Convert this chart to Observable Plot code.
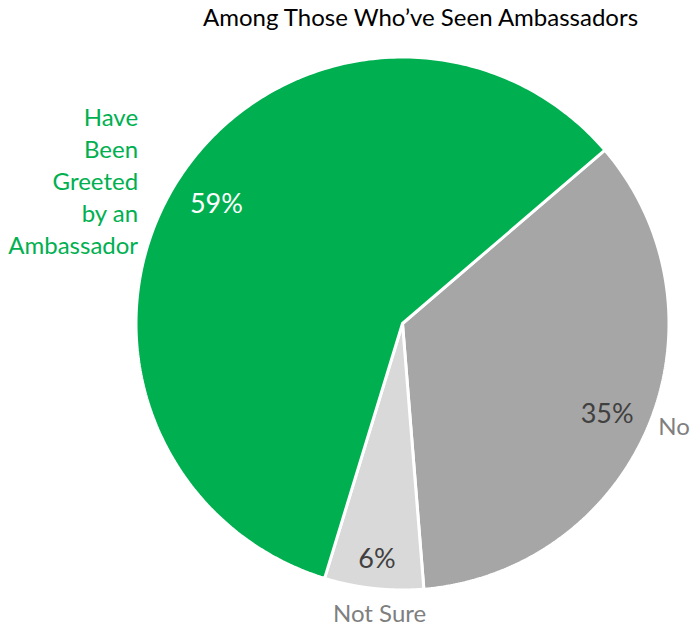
<!DOCTYPE html>
<html>
<head>
<meta charset="utf-8">
<script src="https://cdn.jsdelivr.net/npm/d3@7"></script>
<script src="https://cdn.jsdelivr.net/npm/@observablehq/plot@0.6"></script>
<style>
  html, body { margin: 0; padding: 0; background: #fff; }
  #chart svg { display: block; }
</style>
</head>
<body>
<div id="chart"></div>
<script>
// ---- data ----
const title = "Among Those Who\u2019ve Seen Ambassadors";
const categories = ["No", "Not Sure", "Have Been Greeted by an Ambassador"];
const values = [35, 6, 59];
const valueLabels = ["35%", "6%", "59%"];
const colors = ["#A6A6A6", "#D9D9D9", "#00B050"];
const labelColors = ["#7F7F7F", "#7F7F7F", "#00B050"];
const valueColors = ["#404040", "#404040", "#FFFFFF"];

// ---- layout ----
const W = 692, H = 628;
const cx = 402, cy = 323, R = 266.5;
const startDeg = 49.4; // first slice boundary, clockwise from top
const FONT = "Lato, 'Open Sans', sans-serif";

const total = d3.sum(values);
let acc = startDeg * Math.PI / 180;
const slices = values.map((v, i) => {
  const a0 = acc, a1 = acc + v / total * 2 * Math.PI;
  acc = a1;
  return {i, cat: categories[i], value: v, a0, a1, mid: (a0 + a1) / 2};
});

// polygon points for each slice (unit circle coordinates)
const pts = [];
for (const s of slices) {
  pts.push({i: s.i, x: 0, y: 0});
  const n = 240;
  for (let k = 0; k <= n; k++) {
    const a = s.a0 + (s.a1 - s.a0) * k / n;
    pts.push({i: s.i, x: Math.sin(a), y: Math.cos(a)});
  }
  pts.push({i: s.i, x: 0, y: 0});
}

const polar = (a, r) => ({x: r * Math.sin(a), y: r * Math.cos(a)});
// value label radius (fraction of R) and angle tweak per slice
const inR = [0.84, 0.89, 0.83];
const inDa = [1.5, 0, -0.5];
const valPts = slices.map(s => ({...polar(s.mid + inDa[s.i] * Math.PI / 180, inR[s.i]), text: valueLabels[s.i], color: valueColors[s.i]}));

const outR = [1.035, 1.095, 1.13];
const outDa = [-0.4, -1.7, -4.6];
const outAnchor = ["start", "middle", "end"];
const catPts = slices.map(s => ({...polar(s.mid + outDa[s.i] * Math.PI / 180, outR[s.i]), text: s.cat, color: labelColors[s.i], anchor: outAnchor[s.i]}));
const catText = {
  "No": "No",
  "Not Sure": "Not Sure",
  "Have Been Greeted by an Ambassador": "Have\nBeen\nGreeted\nby an\nAmbassador"
};

const chart = Plot.plot({
  width: W, height: H,
  margin: 0,
  style: {fontFamily: FONT, background: "#fff"},
  x: {domain: [(0 - cx) / R, (W - cx) / R], axis: null},
  y: {domain: [(cy - H) / R, (cy - 0) / R], axis: null},
  marks: [
    Plot.line(pts, {x: "x", y: "y", z: "i", fill: d => colors[d.i], stroke: "#fff", strokeWidth: 3, strokeLinejoin: "miter", curve: "linear"}),
    Plot.text(valPts, {x: "x", y: "y", text: "text", fill: "color", fontSize: 27}),
    Plot.text(catPts.filter(d => d.anchor === "end"), {x: "x", y: "y", text: d => catText[d.text], fill: "color", fontSize: 24, textAnchor: "end", lineHeight: 1.333}),
    Plot.text(catPts.filter(d => d.anchor === "middle"), {x: "x", y: "y", text: d => catText[d.text], fill: "color", fontSize: 24, textAnchor: "middle"}),
    Plot.text(catPts.filter(d => d.anchor === "start"), {x: "x", y: "y", text: d => catText[d.text], fill: "color", fontSize: 24, textAnchor: "start"}),
    Plot.text([title], {frameAnchor: "top", dx: 74, dy: 8, text: d => d, fill: "#000", fontSize: 24, lineAnchor: "top"})
  ]
});
document.getElementById("chart").appendChild(chart);
</script>
</body>
</html>
